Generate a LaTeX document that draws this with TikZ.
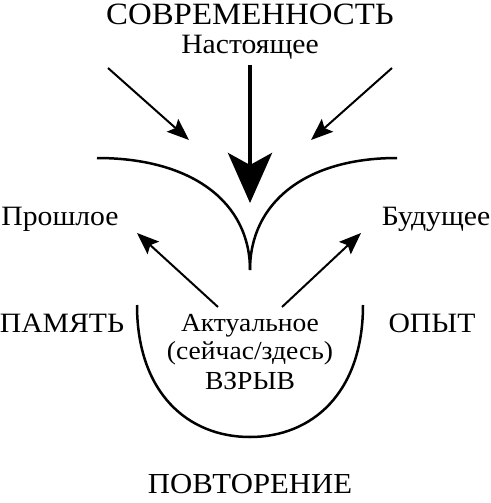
\documentclass[tikz,border=0pt]{standalone}
\usepackage{fontspec}
\setmainfont[FakeStretch=1.06]{Liberation Serif}
\usetikzlibrary{arrows.meta}
\begin{document}
\begin{tikzpicture}[x=1pt,y=-1pt,
  lbl/.style={inner sep=0pt,anchor=base,font=\fontsize{28}{30}\selectfont},
  mid/.style={inner sep=0pt,anchor=base,font=\fontsize{26}{28}\selectfont},
  big/.style={inner sep=0pt,anchor=base,font=\fontsize{31}{33}\selectfont},
  thin/.style={line width=2pt,-{Stealth[length=22pt,width=17pt,inset=4pt]}},
  thick/.style={line width=4.5pt,-{Stealth[length=50pt,width=44pt,inset=12pt]}},
  curve/.style={line width=2.5pt}]
\useasboundingbox (0,0) rectangle (490,503);
% texts
\node[big] (sovr) at (250,25) {СОВРЕМЕННОСТЬ};
\node[lbl] (nast) at (250,53) {Настоящее};
\node[lbl] (proshl) at (60,225) {Прошлое};
\node[lbl] (bud) at (436,225) {Будущее};
\node[lbl] (pam) at (62,332) {ПАМЯТЬ};
\node[lbl] (opyt) at (432,332) {ОПЫТ};
\node[mid] (akt) at (250,331) {Актуальное};
\node[mid] (seich) at (250,359) {(сейчас/здесь)};
\node[mid] (vzr) at (250,389) {ВЗРЫВ};
\node[lbl,font=\fontsize{29}{31}\selectfont] (povt) at (250,493) {ПОВТОРЕНИЕ};
% coordinates
\coordinate (tl) at (108,68);
\coordinate (tlh) at (189,140);
\coordinate (tr) at (392,68);
\coordinate (trh) at (311,140);
\coordinate (tc) at (250,65);
\coordinate (tch) at (250,203);
\coordinate (cl) at (97,158);
\coordinate (cr) at (397,158);
\coordinate (cusp) at (250,270);
\coordinate (ul) at (137,305);
\coordinate (ur) at (363,305);
\coordinate (ub) at (250,437);
\coordinate (al) at (218,307);
\coordinate (alh) at (137,233);
\coordinate (ar) at (282,307);
\coordinate (arh) at (361,233);
% arrows in
\draw[thin] (tl) -- (tlh);
\draw[thin] (tr) -- (trh);
\draw[thick] (tc) -- (tch);
% top curves
\draw[curve] (cl) .. controls (193,158) and (250,203) .. (cusp);
\draw[curve] (cr) .. controls (305,158) and (250,203) .. (cusp);
% bottom U
\draw[curve] (ul) .. controls (137,393) and (188,437) .. (ub)
             .. controls (312,437) and (363,393) .. (ur);
% arrows out
\draw[thin] (al) -- (alh);
\draw[thin] (ar) -- (arh);
\end{tikzpicture}
\end{document}
